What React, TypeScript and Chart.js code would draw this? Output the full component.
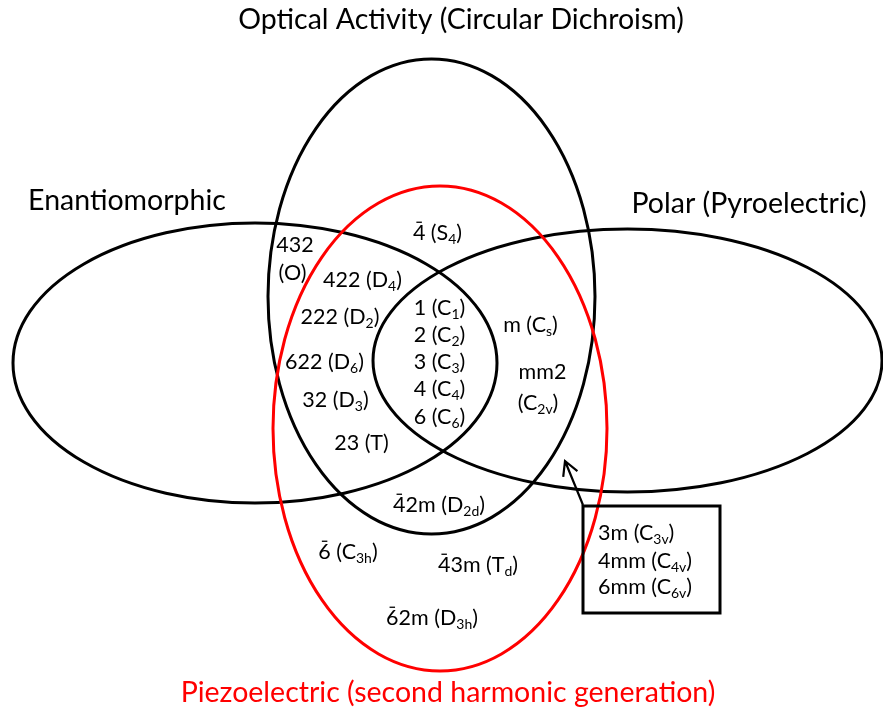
import React, { useEffect, useRef } from "react";
import { Chart, registerables } from "chart.js";
Chart.register(...registerables);

const W = 883;
const H = 713;
const FONT = "Lato, 'Open Sans', sans-serif";

// Sets (ellipses): name, colour, centre and radii in diagram units
const setNames = [
  "Optical Activity (Circular Dichroism)",
  "Enantiomorphic",
  "Polar (Pyroelectric)",
  "Piezoelectric (second harmonic generation)",
];
const setColors = ["#000000", "#000000", "#000000", "#ff0000"];
const ellipseCX = [431.5, 255, 627.5, 440];
const ellipseCY = [296.5, 363, 360.5, 428.5];
const ellipseRX = [163.5, 242, 254.5, 167];
const ellipseRY = [237.5, 140, 131.5, 242.5];
const setLabelX = [461, 127, 749, 448];
const setLabelY = [20, 201, 204, 693];

// Point-group labels inside the regions
const groupLabels = [
  "4\u0304 (S_{4})",
  "432",
  "(O)",
  "422 (D_{4})",
  "222 (D_{2})",
  "622 (D_{6})",
  "32 (D_{3})",
  "23 (T)",
  "1 (C_{1})",
  "2 (C_{2})",
  "3 (C_{3})",
  "4 (C_{4})",
  "6 (C_{6})",
  "m (C_{s})",
  "mm2",
  "(C_{2v})",
  "4\u03042m (D_{2d})",
  "6\u0304 (C_{3h})",
  "4\u03043m (T_{d})",
  "6\u03042m (D_{3h})",
];
const groupX = [437.5, 295, 292.5, 362.5, 340, 324.5, 335.5, 361.5, 439.5, 439.5, 439.5, 439.5, 439.5, 530.5, 542.5, 538, 439, 348, 478, 432];
const groupY = [233, 245, 273, 280, 317, 362, 400, 443, 308, 335, 362, 389, 417, 325, 372, 403, 505, 552, 565, 618];

// Callout box
const boxLabels = ["3m (C_{3v})", "4mm (C_{4v})", "6mm (C_{6v})"];
const boxLabelX = [598, 598, 598];
const boxLabelY = [533, 561, 587];
const boxX = [583, 720];
const boxY = [506, 613];
const arrowFrom = [583, 505];
const arrowTo = [565, 461];

const SET_FONT = 28.5;
const LABEL_FONT = 21.5;

type Seg = { t: string; sub: boolean; bar: boolean };

function parseRich(text: string): Seg[] {
  const segs: Seg[] = [];
  const re = /_\{([^}]*)\}/g;
  let last = 0;
  let m: RegExpExecArray | null;
  const pushPlain = (s: string) => {
    // split out characters carrying a combining macron (overbar)
    let buf = "";
    for (let i = 0; i < s.length; i++) {
      if (s[i + 1] === "\u0304") {
        if (buf) segs.push({ t: buf, sub: false, bar: false });
        buf = "";
        segs.push({ t: s[i], sub: false, bar: true });
        i++;
      } else buf += s[i];
    }
    if (buf) segs.push({ t: buf, sub: false, bar: false });
  };
  while ((m = re.exec(text)) !== null) {
    if (m.index > last) pushPlain(text.slice(last, m.index));
    segs.push({ t: m[1], sub: true, bar: false });
    last = m.index + m[0].length;
  }
  if (last < text.length) pushPlain(text.slice(last));
  return segs;
}

function drawRich(ctx: CanvasRenderingContext2D, text: string, x: number, y: number, size: number, align: string, color: string) {
  const parts = parseRich(text);
  const subSize = size * 0.65;
  let total = 0;
  const widths = parts.map((p) => {
    ctx.font = `${p.sub ? subSize : size}px ${FONT}`;
    const w = ctx.measureText(p.t).width;
    total += w;
    return w;
  });
  let cx = align === "left" ? x : x - total / 2;
  ctx.fillStyle = color;
  ctx.strokeStyle = color;
  ctx.textAlign = "left";
  ctx.textBaseline = "middle";
  parts.forEach((p, i) => {
    ctx.font = `${p.sub ? subSize : size}px ${FONT}`;
    ctx.fillText(p.t, cx, p.sub ? y + size * 0.3 : y);
    if (p.bar) {
      ctx.lineWidth = 1.3;
      ctx.beginPath();
      const by = y - size * 0.5;
      ctx.moveTo(cx + widths[i] * 0.28, by);
      ctx.lineTo(cx + widths[i] * 0.72, by);
      ctx.stroke();
    }
    cx += widths[i];
  });
}

const vennPlugin = {
  id: "venn",
  afterDraw(chart: any) {
    const ctx: CanvasRenderingContext2D = chart.ctx;
    const xs = chart.scales.x;
    const ys = chart.scales.y;
    const px = (v: number) => xs.getPixelForValue(v);
    const py = (v: number) => ys.getPixelForValue(v);
    ctx.save();
    // ellipses
    setNames.forEach((_, i) => {
      const cx = px(ellipseCX[i]);
      const cy = py(ellipseCY[i]);
      const rx = Math.abs(px(ellipseCX[i] + ellipseRX[i]) - cx);
      const ry = Math.abs(py(ellipseCY[i] + ellipseRY[i]) - cy);
      ctx.beginPath();
      ctx.ellipse(cx, cy, rx, ry, 0, 0, Math.PI * 2);
      ctx.strokeStyle = setColors[i];
      ctx.lineWidth = 3;
      ctx.stroke();
    });
    // set names
    setNames.forEach((name, i) => {
      ctx.font = `${SET_FONT}px ${FONT}`;
      ctx.fillStyle = setColors[i];
      ctx.textAlign = "center";
      ctx.textBaseline = "middle";
      ctx.fillText(name, px(setLabelX[i]), py(setLabelY[i]));
    });
    // group labels
    groupLabels.forEach((t, i) => drawRich(ctx, t, px(groupX[i]), py(groupY[i]), LABEL_FONT, "center", "#000"));
    // box
    ctx.strokeStyle = "#000";
    ctx.lineWidth = 3;
    ctx.strokeRect(px(boxX[0]), py(boxY[0]), px(boxX[1]) - px(boxX[0]), py(boxY[1]) - py(boxY[0]));
    boxLabels.forEach((t, i) => drawRich(ctx, t, px(boxLabelX[i]), py(boxLabelY[i]), LABEL_FONT, "left", "#000"));
    // arrow
    const ax0 = px(arrowFrom[0]), ay0 = py(arrowFrom[1]);
    const ax1 = px(arrowTo[0]), ay1 = py(arrowTo[1]);
    ctx.strokeStyle = "#000";
    ctx.lineWidth = 2.2;
    ctx.beginPath();
    ctx.moveTo(ax0, ay0);
    ctx.lineTo(ax1, ay1);
    const ang = Math.atan2(ay1 - ay0, ax1 - ax0);
    const L = 16;
    ctx.moveTo(ax1 - L * Math.cos(ang - 0.5), ay1 - L * Math.sin(ang - 0.5));
    ctx.lineTo(ax1, ay1);
    ctx.lineTo(ax1 - L * Math.cos(ang + 0.5), ay1 - L * Math.sin(ang + 0.5));
    ctx.stroke();
    ctx.restore();
  },
};

export default function App() {
  const ref = useRef<HTMLCanvasElement>(null);
  useEffect(() => {
    if (!ref.current) return;
    const chart = new Chart(ref.current, {
      type: "scatter",
      data: { datasets: [{ data: [], pointRadius: 0 }] },
      options: {
        animation: false,
        responsive: false,
        layout: { padding: 0 },
        plugins: { legend: { display: false }, tooltip: { enabled: false } },
        scales: {
          x: { type: "linear", min: 0, max: W, display: false },
          y: { type: "linear", min: 0, max: H, reverse: true, display: false },
        },
      },
      plugins: [vennPlugin],
    });
    return () => chart.destroy();
  }, []);
  return (
    <div style={{ position: "absolute", left: 0, top: 0, width: W, height: H, background: "#fff" }}>
      <canvas ref={ref} width={W} height={H} style={{ width: W, height: H }} />
    </div>
  );
}
